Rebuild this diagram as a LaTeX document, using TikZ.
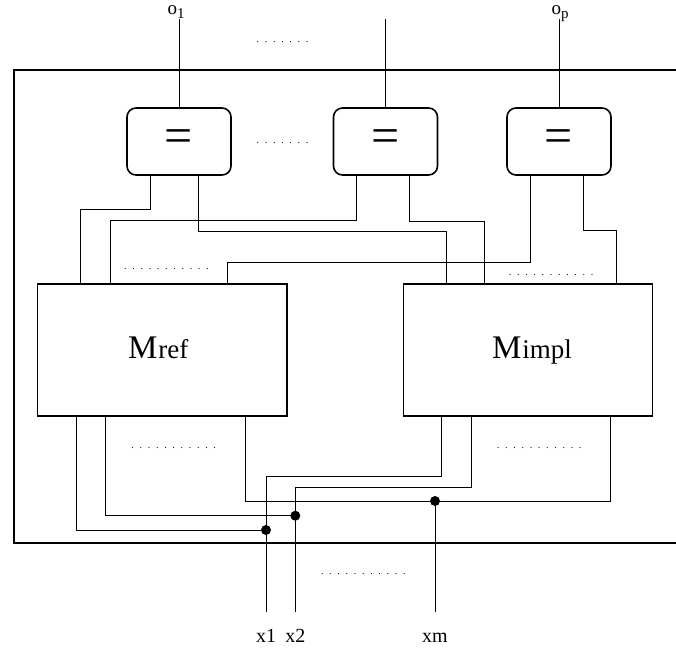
\documentclass[tikz,border=0pt]{standalone}
\usepackage{fontspec}
\setmainfont{Liberation Serif}
\usetikzlibrary{positioning}

\newcommand{\blocklabel}[2]{{\fontsize{33}{33}\selectfont #1}\hspace{1pt}{\fontsize{27}{27}\selectfont #2}}
\newcommand{\outlabel}[2]{#1\raisebox{-4pt}{\fontsize{15}{15}\selectfont #2}}
\newcommand{\dotrow}[1]{.\foreach \k in {2,...,#1}{\hspace{5.7pt}.}}

\begin{document}
\begin{tikzpicture}[
		x=1pt, y=-1pt,
		cmpbox/.style = {draw, line width=1.6pt, rounded corners=9pt, minimum width=104pt, minimum height=67pt, inner sep=0pt, font=\fontsize{50}{50}\selectfont},
		mblock/.style = {draw, line width=1.1pt, minimum width=249.5pt, minimum height=132pt, inner sep=0pt},
		mlab/.style = {anchor=base, inner sep=0pt},
		wire/.style = {line width=0.9pt},
		frame/.style = {line width=2pt},
		junction/.style = {circle, fill, inner sep=0pt, minimum size=10pt},
		dots/.style = {anchor=base, inner sep=0pt, font=\fontsize{10}{10}\selectfont},
		outlab/.style = {anchor=base, inner sep=0pt, font=\fontsize{19}{19}\selectfont},
		inlab/.style = {inner sep=0pt, text height=14pt, text depth=0pt, font=\fontsize{20}{20}\selectfont}
		]
		\useasboundingbox (0,0) rectangle (676,651);
		
		% --- MARCO DEL SISTEMA ---
		\draw [frame] (680,70) -- (14,70) -- (14,543) -- (680,543);
		
		% --- COMPARADORES ---
		\node [cmpbox] (cmp1) at (179,141.5) {=};
		\node [cmpbox] (cmp2) at (385.5,141.5) {=};
		\node [cmpbox] (cmp3) at (559,141.5) {=};
		
		% --- SALIDAS ---
		\path (cmp1.north) ++(0,-88) coordinate (out1);
		\path (cmp2.north) ++(0,-88) coordinate (out2);
		\path (cmp3.north) ++(0,-88) coordinate (outp);
		\node [outlab] (o1lbl) at ([xshift=-3pt, yshift=5pt]out1) {\outlabel{o}{1}};
		\node [outlab] (oplbl) at ([xshift=1pt, yshift=5pt]outp) {\outlabel{o}{p}};
		\draw [wire] (out1) -- (cmp1.north);
		\draw [wire] (out2) -- (cmp2.north);
		\draw [wire] (outp) -- (cmp3.north);
		
		% --- MAQUINAS ---
		\node [mblock] (ref)  at (162.25,350) {};
		\node [mblock] (impl) at (528,350)    {};
		\node [mlab] (mreflbl)  at ([xshift=-4pt, yshift=-8pt]ref.center)  {\blocklabel{M}{ref}};
		\node [mlab] (mimpllbl) at ([xshift=4pt, yshift=-8pt]impl.center) {\blocklabel{M}{impl}};
		
		% --- COMPARADORES -> MAQUINAS ---
		\draw [wire] ([xshift=24pt]cmp1.south west)   -- ++(0,34)   -| ([xshift=43.5pt]ref.north west);
		\draw [wire] ([xshift=72pt]cmp1.south west)   -- ++(0,56)   -| ([xshift=44pt]impl.north west);
		\draw [wire] ([xshift=24.2pt]cmp2.south west) -- ++(0,45)   -| ([xshift=73.7pt]ref.north west);
		\draw [wire] ([xshift=76.8pt]cmp2.south west) -- ++(0,46)   -| ([xshift=82pt]impl.north west);
		\draw [wire] ([xshift=24.5pt]cmp3.south west) -- ++(0,87)   -| ([xshift=190.9pt]ref.north west);
		\draw [wire] ([xshift=77pt]cmp3.south west)   -- ++(0,54.3) -| ([xshift=213.8pt]impl.north west);
		
		% --- ENTRADAS ---
		\node [junction] (j1) at (266,530) {};
		\node [junction] (j2) at (295.3,515.7) {};
		\node [junction] (jm) at (435,501) {};
		\coordinate (in1) at (266,612);
		\coordinate (in2) at (295.3,612);
		\coordinate (inm) at (435,612);
		\node [inlab, below=16pt of in1] (x1lbl) {x1};
		\node [inlab, below=16pt of in2] (x2lbl) {x2};
		\node [inlab, below=16pt of inm] (xmlbl) {xm};
		
		\draw [wire] ([xshift=39.2pt]ref.south west) |- (j1.center);
		\draw [wire] ([xshift=68.5pt]ref.south west) |- (j2.center);
		\draw [wire] ([xshift=208.2pt]ref.south west) |- (jm.center) -| ([xshift=208.2pt]impl.south west);
		\draw [wire] ([xshift=39.2pt]impl.south west) -- ++(0,60) -| (in1);
		\draw [wire] ([xshift=68.6pt]impl.south west) -- ++(0,71.3) -| (in2);
		\draw [wire] (jm.center) -- (inm);
		
		% --- PUNTOS SUSPENSIVOS ---
		\node [dots] (dtop)     at (282.5,42)  {\dotrow{7}};
		\node [dots] (dcmp)     at (282.5,143) {\dotrow{7}};
		\node [dots] (drefin)   at (166.4,269) {\dotrow{11}};
		\node [dots] (dimplin)  at (551.1,275) {\dotrow{11}};
		\node [dots] (drefout)  at (173.7,448) {\dotrow{11}};
		\node [dots] (dimplout) at (539.2,448) {\dotrow{11}};
		\node [dots] (din)      at (363.3,574) {\dotrow{11}};
		
	\end{tikzpicture}
\end{document}
